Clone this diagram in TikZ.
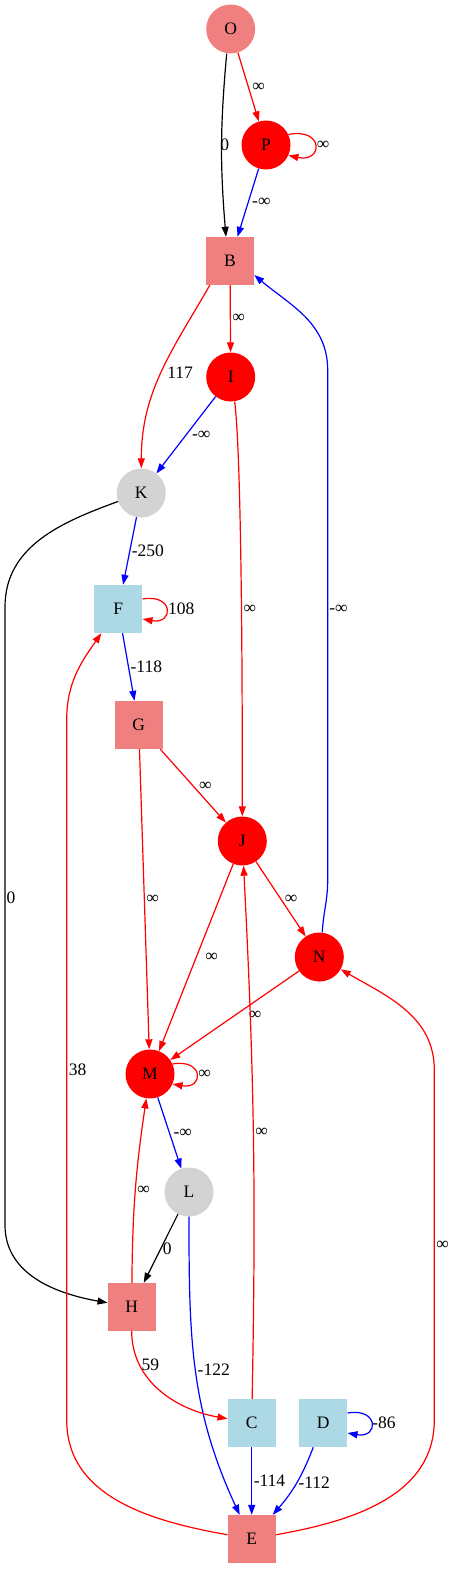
\documentclass[tikz,border=0pt]{standalone}
\usepackage{fontspec}
\setmainfont{Liberation Serif}
\usetikzlibrary{arrows.meta}
\definecolor{lightcoral}{RGB}{240, 128, 128}
\definecolor{lightgrey}{RGB}{211, 211, 211}
\definecolor{lightblue}{RGB}{173, 216, 230}

\begin{document}
\begin{tikzpicture}[x=1pt, y=-1pt,
    vert/.style={circle, minimum size=49pt, inner sep=0pt, font=\fontsize{17.5}{19}\selectfont},
    blk/.style={rectangle, minimum size=48pt, inner sep=0pt, font=\fontsize{17.5}{19}\selectfont},
    link/.style={line width=1.2pt, -{Triangle[length=10pt, width=7pt]}},
    lbl/.style={text=black, font=\fontsize{17.5}{19}\selectfont, inner sep=1.5pt}]
            % Frame to ensure alignment:
            \useasboundingbox                          (0, 0) rectangle (453, 1569);
            % Vertices
            \node[vert, fill=lightcoral] (O) at (230.7,   29) {O};
            \node[vert, fill=red]        (P) at (266.0,  145) {P};
            \node[blk,  fill=lightcoral] (B) at (230.0,  261) {B};
            \node[vert, fill=red]        (I) at (230.7,  377) {I};
            \node[vert, fill=lightgrey]  (K) at (141.3,  493) {K};
            \node[blk,  fill=lightblue]  (F) at (118.3,  609) {F};
            \node[blk,  fill=lightcoral] (G) at (138.7,  725) {G};
            \node[vert, fill=red]        (J) at (242.3,  841) {J};
            \node[vert, fill=red]        (N) at (319.3,  957) {N};
            \node[vert, fill=red]        (M) at (150.0, 1074) {M};
            \node[vert, fill=lightgrey]  (L) at (189.0, 1192) {L};
            \node[blk,  fill=lightcoral] (H) at (131.7, 1307) {H};
            \node[blk,  fill=lightblue]  (C) at (251.7, 1423) {C};
            \node[blk,  fill=lightblue]  (D) at (323.3, 1423) {D};
            \node[blk,  fill=lightcoral] (E) at (251.7, 1539) {E};
            % Upper part
            \draw[link, black] ([xshift=-4pt]O.south) to[bend right=5] node[lbl, pos=.5, xshift=3pt] {0} ([xshift=-4pt]B.north);
            \draw[link, red]   (O) -- node[lbl, right, xshift=2pt] {∞} (P);
            \draw[link, red]   (P.25) .. controls +(12:36pt) and +(-12:36pt) .. node[lbl, right] {∞} (P.-25);
            \draw[link, blue]  (P) -- node[lbl, right, xshift=2pt] {-∞} (B);
            \draw[link, red]   (B) -- node[lbl, right] {∞} (I);
            \draw[link, red]   ([xshift=4pt]B.south west) to[out=-120, in=90] node[lbl, right, xshift=4pt] {117} (K);
            \draw[link, blue]  (I) -- node[lbl, right, xshift=4pt] {-∞} (K);
            \draw[link, red]   ([xshift=4pt]I.south) to[out=-83, in=90, looseness=.4] node[lbl, right] {∞} (J);
            \draw[link, blue]  ([xshift=3pt]N.north) to[out=87, in=-90] (327.7, 880) -- node[lbl, right, pos=.53, inner sep=1pt] {-∞} (327.7, 370)
                               to[out=90, in=-40] ([yshift=-14pt]B.east);
            % Middle part
            \draw[link, blue]  (K) -- node[lbl, right] {-250} (F);
            \draw[link, black] (K) to[out=200, in=90] (5, 607) -- node[lbl, right, pos=.47, inner sep=1pt] {0} (5, 1225) to[out=-90, in=170] (H);
            \draw[link, red]   ([yshift=10pt]F.east) .. controls +(10:32pt) and +(-10:32pt) .. node[lbl, right] {108} ([yshift=-10pt]F.east);
            \draw[link, blue]  (F) -- node[lbl, right] {-118} (G);
            \draw[link, red]   (G) -- node[lbl, right, xshift=4pt] {∞} (J);
            \draw[link, red]   (G) -- node[lbl, right] {∞} (M);
            \draw[link, red]   (J) -- node[lbl, right, xshift=2pt] {∞} (N);
            \draw[link, red]   (J) -- node[lbl, right, xshift=7pt] {∞} (M);
            \draw[link, red]   (N) -- node[lbl, right, xshift=12pt] {∞} (M);
            \draw[link, red]   (M.24) .. controls +(10:32pt) and +(-10:32pt) .. node[lbl, right] {∞} (M.-24);
            % Lower part
            \draw[link, blue]  (M) -- node[lbl, right, xshift=2pt] {-∞} (L);
            \draw[link, black] (L) -- node[lbl, right] {0} (H);
            \draw[link, blue]  (L) to[out=-90, in=115] node[lbl, right] {-122} ([xshift=-12pt]E.north);
            \draw[link, red]   (H) to[bend left=4] node[lbl, right] {∞} (M);
            \draw[link, red]   (H) to[out=-90, in=170] node[lbl, right, pos=.25] {59} (C);
            \draw[link, red]   (C) to[bend right=2] node[lbl, right] {∞} (J);
            \draw[link, blue]  (C) -- node[lbl, right] {-114} (E);
            \draw[link, blue]  ([yshift=10pt]D.east) .. controls +(10:32pt) and +(-10:32pt) .. node[lbl, right, inner sep=.5pt] {-86} ([yshift=-10pt]D.east);
            \draw[link, blue]  ([xshift=-10pt]D.south) to[bend left=10] node[lbl, right] {-112} ([xshift=21pt]E.north);
            \draw[link, red]   (E) to[out=170, in=-90] (66.7, 1420) -- node[lbl, right] {38} (66.7, 720) to[out=90, in=-125] (F);
            \draw[link, red]   (E) to[out=10, in=-90] (434.3, 1420) -- node[lbl, right] {∞} (434.3, 1070) to[out=90, in=-30] (N);
\end{tikzpicture}
\end{document}
